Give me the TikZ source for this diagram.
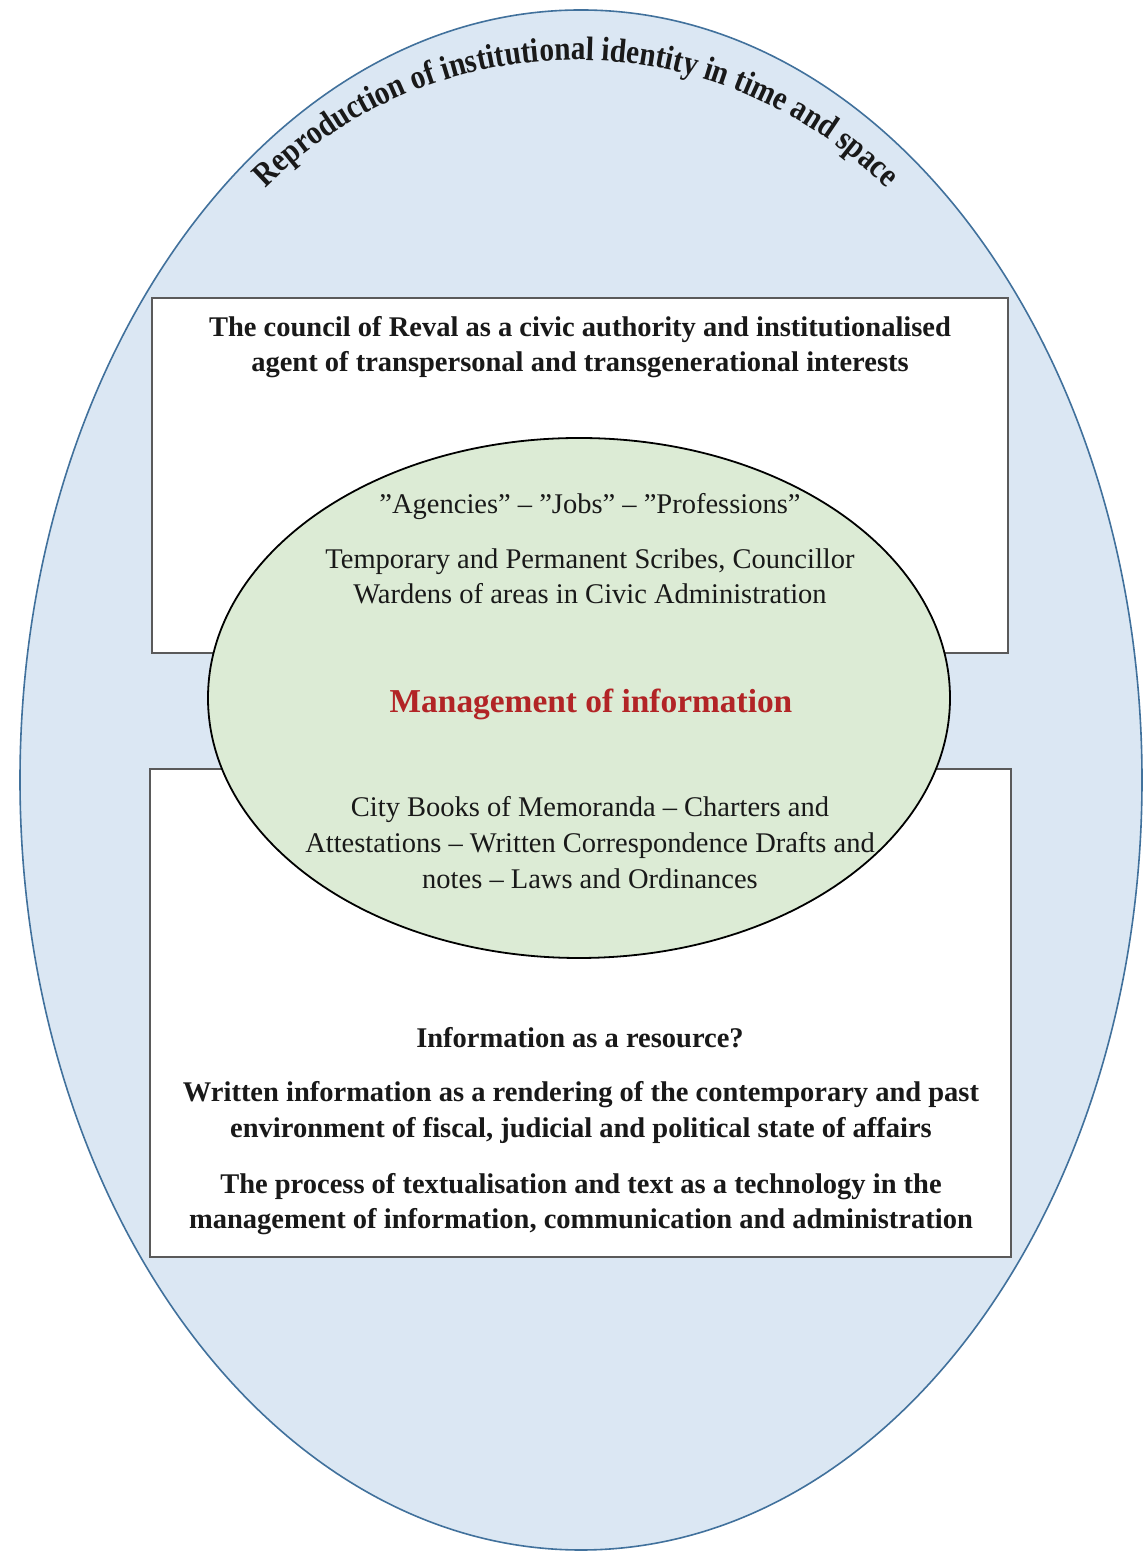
\documentclass[tikz,border=0pt]{standalone}
\usepackage{fontspec}
\setmainfont{Liberation Serif}
\newfontfamily\arcfont[FakeStretch=0.86]{Liberation Serif}
\usetikzlibrary{decorations.text}
\definecolor{outerfill}{RGB}{219,231,243}
\definecolor{outerline}{RGB}{65,113,156}
\definecolor{innerfill}{RGB}{220,235,213}
\definecolor{boxline}{RGB}{90,90,90}
\definecolor{mgmtred}{RGB}{178,36,38}
\definecolor{txt}{RGB}{25,25,25}
\begin{document}
\begin{tikzpicture}[x=1pt,y=1pt,
  boxtxt/.style={anchor=base,inner sep=0pt,text=txt,font=\fontsize{28.5}{35}\selectfont\bfseries},
  elltxt/.style={anchor=base,inner sep=0pt,text=txt,font=\fontsize{28.5}{35}\selectfont},
  panel/.style={draw=boxline,line width=1.2pt,fill=white}]
\useasboundingbox (0,0) rectangle (1145,1553);
\fill[white] (0,0) rectangle (1145,1553);
% outer ellipse
\draw[draw=outerline,line width=1.6pt,fill=outerfill] (581,773) ellipse [x radius=561,y radius=770];
% curved title
\path[decorate,decoration={text along path,text align=center,
  text={|\arcfont\bfseries\fontsize{34}{34}\selectfont\color{txt}|Reproduction of institutional identity in time and space}}]
  (576,1053) ++(136:440) arc[start angle=136,end angle=44,radius=440];
% boxes
\draw[panel] (152,1255) rectangle (1008,900);
\draw[panel] (150,784) rectangle (1011,296);
% inner ellipse
\draw[draw=black,line width=1.8pt,fill=innerfill] (579,855) ellipse [x radius=371,y radius=260];
% top box text
\node[boxtxt] (t1) at (580,1216) {The council of Reval as a civic authority and institutionalised};
\node[boxtxt] (t2) at (580,1181) {agent of transpersonal and transgenerational interests};
% inner ellipse text
\node[elltxt] (e1) at (590,1039) {”Agencies” – ”Jobs” – ”Professions”};
\node[elltxt] (e2) at (590,984) {Temporary and Permanent Scribes, Councillor};
\node[elltxt] (e3) at (590,949) {Wardens of areas in Civic Administration};
\node[anchor=base,inner sep=0pt,text=mgmtred,font=\fontsize{33.4}{38}\selectfont\bfseries] (m) at (591,840) {Management of information};
\node[elltxt] (e4) at (590,736) {City Books of Memoranda – Charters and};
\node[elltxt] (e5) at (590,700) {Attestations – Written Correspondence Drafts and};
\node[elltxt] (e6) at (590,664) {notes – Laws and Ordinances};
% bottom box text
\node[boxtxt] (b1) at (580,505) {Information as a resource?};
\node[boxtxt] (b2) at (581,451) {Written information as a rendering of the contemporary and past};
\node[boxtxt] (b3) at (581,415) {environment of fiscal, judicial and political state of affairs};
\node[boxtxt] (b4) at (581,359) {The process of textualisation and text as a technology in the};
\node[boxtxt] (b5) at (581,324) {management of information, communication and administration};
\end{tikzpicture}
\end{document}
